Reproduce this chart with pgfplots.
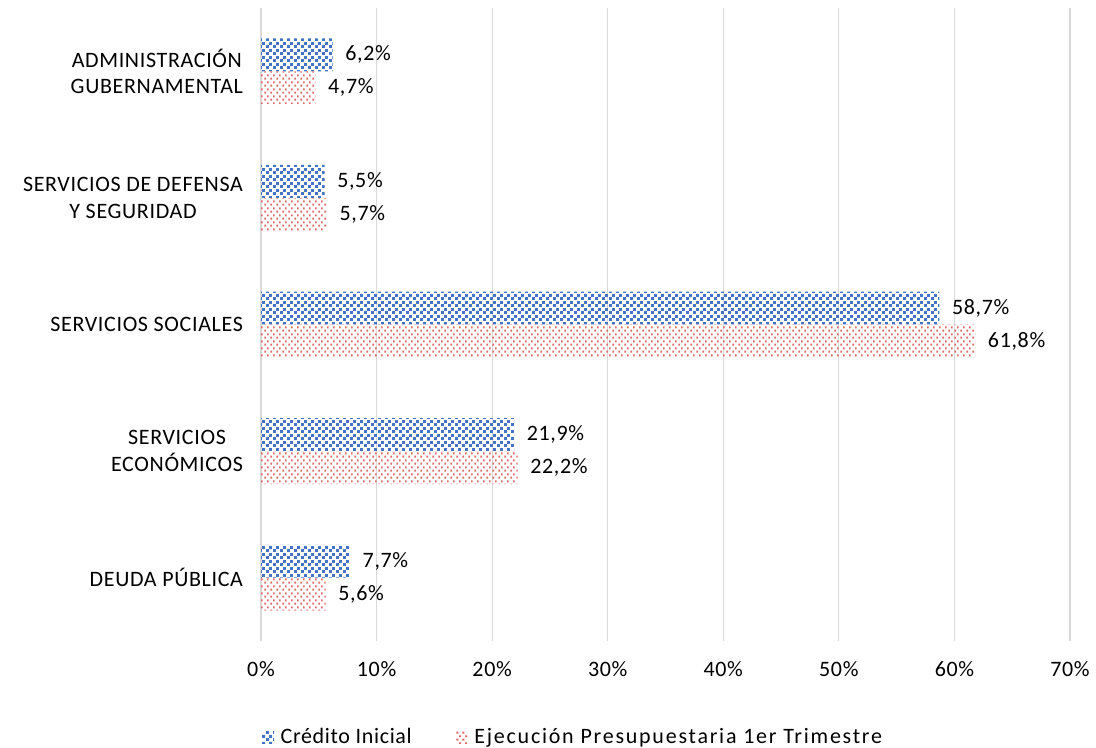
\documentclass[border=0pt]{standalone}
\usepackage{pgfplots}
\pgfplotsset{compat=1.18}
\usepackage{fontspec}
\setmainfont{Carlito}[LetterSpace=3]
\usetikzlibrary{patterns.meta,patterns}
\definecolor{cblue}{RGB}{68,114,196}
\definecolor{cred}{RGB}{224,102,102}
\definecolor{cgrid}{RGB}{217,217,217}
\pgfdeclarepattern{name=bluesq, type=uncolored,
  bottom left={\pgfpoint{0pt}{0pt}}, top right={\pgfpoint{5.25pt}{5.25pt}},
  tile size={\pgfpoint{5.25pt}{5.25pt}},
  code={\pgfpathrectangle{\pgfpoint{0pt}{0pt}}{\pgfpoint{2.4pt}{2.4pt}}
        \pgfpathrectangle{\pgfpoint{2.625pt}{2.625pt}}{\pgfpoint{2.4pt}{2.4pt}}
        \pgfusepath{fill}}}
\pgfdeclarepattern{name=reddot, type=uncolored,
  bottom left={\pgfpoint{0pt}{0pt}}, top right={\pgfpoint{4.5pt}{5.4pt}},
  tile size={\pgfpoint{4.5pt}{5.4pt}},
  code={\pgfpathrectangle{\pgfpoint{0.4pt}{0.4pt}}{\pgfpoint{1.5pt}{1.5pt}}
        \pgfpathrectangle{\pgfpoint{2.65pt}{3.1pt}}{\pgfpoint{1.5pt}{1.5pt}}
        \pgfusepath{fill}}}
\begin{document}
\begin{tikzpicture}
\useasboundingbox (0pt,0pt) rectangle (822pt,561pt);
\begin{axis}[
  at={(195.75pt,80.25pt)}, anchor=south west,
  scale only axis, width=606.75pt, height=474.75pt,
  xbar, y dir=reverse,
  xmin=0, xmax=70, ymin=-0.5, ymax=4.5,
  bar width=0.26,
  axis line style={draw=none},
  xmajorgrids, grid style={cgrid, line width=0.9pt},
  major tick length=0pt,
  xtick={0,10,20,30,40,50,60,70},
  xticklabels={0\%,10\%,20\%,30\%,40\%,50\%,60\%,70\%},
  xticklabel style={font=\fontsize{16.5}{20}\selectfont, yshift=-12pt},
  ytick={0,1,2,3,4},
  yticklabels={ADMINISTRACIÓN\\GUBERNAMENTAL, SERVICIOS DE DEFENSA\\Y SEGURIDAD, SERVICIOS SOCIALES, SERVICIOS\\ECONÓMICOS, DEUDA PÚBLICA},
  yticklabel style={font=\fontsize{16.5}{20}\selectfont, align=center, xshift=-10pt},
  nodes near coords={\pgfmathprintnumber{\pgfplotspointmeta}\%},
  nodes near coords style={font=\fontsize{16.5}{20}\selectfont, anchor=west, xshift=6pt, text=black},
  /pgf/number format/.cd, use comma, fixed, fixed zerofill, precision=1, assume math mode=true,
  /pgfplots/.cd,
  legend columns=2,
  legend style={draw=none, font=\fontsize{16.5}{20}\selectfont, at={(-0.004,-0.152)}, anchor=west,
    /tikz/every odd column/.append style={column sep=3pt},
    /tikz/every even column/.append style={column sep=31pt}},
  legend image code/.code={\fill[#1] (0pt,-4.5pt) rectangle (9pt,4.5pt);},
]
\addplot[draw=none, pattern=bluesq, pattern color=cblue, bar shift=-0.13] coordinates {(6.2,0) (5.5,1) (58.7,2) (21.9,3) (7.7,4)};
\addplot[draw=none, pattern=reddot, pattern color=cred, bar shift=0.13] coordinates {(4.7,0) (5.7,1) (61.8,2) (22.2,3) (5.6,4)};
\legend{Crédito Inicial, {\addfontfeature{LetterSpace=8}Ejecución Presupuestaria 1er Trimestre}}
\end{axis}
\end{tikzpicture}
\end{document}
